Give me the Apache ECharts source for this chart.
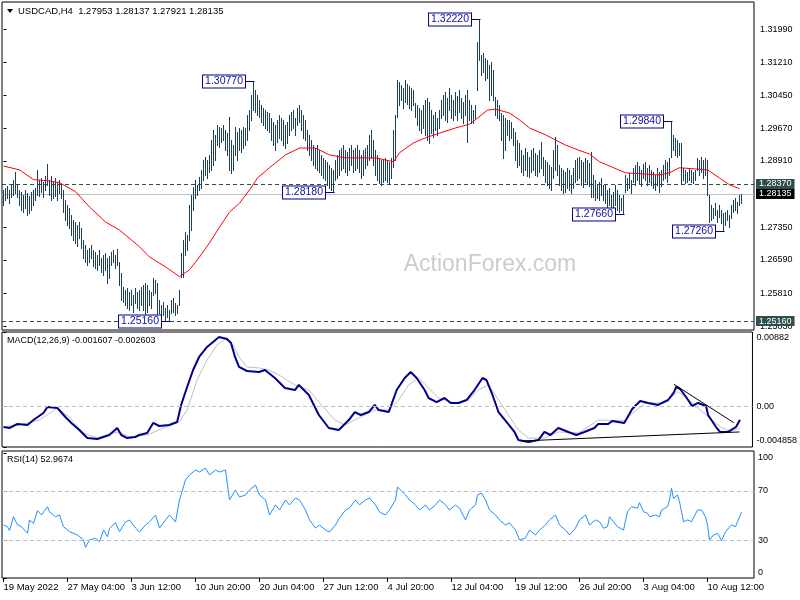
<!DOCTYPE html>
<html><head><meta charset="utf-8">
<script src="https://cdn.jsdelivr.net/npm/echarts@6/dist/echarts.min.js"></script>
<style>html,body{margin:0;padding:0;background:#fff}#c{width:800px;height:600px}</style>
</head><body><div id="c"></div>
<script>
// ---------- DATA (USDCAD H4) ----------
const barHigh = [
1.2823,1.2828,1.2833,1.2823,1.2835,1.2847,1.2865,1.2835,1.2823,1.2819,
1.2812,1.2823,1.2816,1.2809,1.2819,1.2823,1.2828,1.2870,1.2847,1.2851,
1.2842,1.2856,1.2884,1.2847,1.2856,1.2842,1.2851,1.2840,1.2847,1.2837,
1.2823,1.2799,1.2788,1.2781,1.2764,1.2753,1.2748,1.2741,1.2748,1.2734,
1.2706,1.2694,1.2683,1.2687,1.2694,1.2683,1.2678,1.2671,1.2683,1.2664,
1.2671,1.2676,1.2664,1.2669,1.2678,1.2683,1.2671,1.2685,1.2655,1.2629,
1.2596,1.2589,1.2594,1.2585,1.2589,1.2578,1.2594,1.2585,1.2589,1.2596,
1.2601,1.2606,1.2601,1.2589,1.2585,1.2617,1.2613,1.2606,1.2565,1.2554,
1.2561,1.2547,1.2554,1.2542,1.2565,1.2570,1.2558,1.2554,1.2589,1.2676,
1.2706,1.2725,1.2718,1.2788,1.2812,1.2830,1.2847,1.2835,1.2854,1.2870,
1.2893,1.2900,1.2893,1.2905,1.2940,1.2963,1.2952,1.2975,1.2970,1.2968,
1.2975,1.2963,1.2956,1.2994,1.2940,1.2928,1.2970,1.2959,1.2968,1.2963,
1.2970,1.2968,1.2998,1.3010,1.3045,1.3077,1.3057,1.3045,1.3033,1.3022,
1.3015,1.3010,1.3005,1.3003,1.2991,1.2982,1.2975,1.2987,1.2998,1.2991,
1.2987,1.2975,1.2982,1.2998,1.3005,1.3010,1.2991,1.3015,1.3022,1.3010,
1.2998,1.2987,1.2963,1.2952,1.2940,1.2928,1.2921,1.2928,1.2917,1.2905,
1.2898,1.2893,1.2889,1.2882,1.2875,1.2870,1.2893,1.2905,1.2917,1.2921,
1.2928,1.2917,1.2912,1.2921,1.2928,1.2917,1.2921,1.2928,1.2917,1.2905,
1.2917,1.2921,1.2928,1.2952,1.2963,1.2940,1.2917,1.2905,1.2898,1.2893,
1.2893,1.2898,1.2893,1.2889,1.2898,1.2963,1.2998,1.3080,1.3076,1.3069,
1.3062,1.3080,1.3071,1.3066,1.3062,1.3057,1.3026,1.3022,1.3015,1.3010,
1.3022,1.3033,1.3038,1.3029,1.3010,1.2998,1.3005,1.2991,1.3010,1.3033,
1.3045,1.3052,1.3038,1.3062,1.3045,1.3033,1.3052,1.3043,1.3057,1.3038,
1.3029,1.3045,1.3057,1.3033,1.3022,1.3010,1.3022,1.3169,1.3222,1.3139,
1.3144,1.3132,1.3127,1.3115,1.3122,1.3104,1.3041,1.3033,1.3022,1.3003,
1.2998,1.2991,1.2987,1.2987,1.2982,1.2968,1.2959,1.2940,1.2933,1.2917,
1.2905,1.2921,1.2912,1.2900,1.2917,1.2921,1.2910,1.2905,1.2917,1.2935,
1.2900,1.2893,1.2889,1.2882,1.2877,1.2917,1.2947,1.2928,1.2882,1.2875,
1.2870,1.2865,1.2875,1.2870,1.2858,1.2875,1.2893,1.2898,1.2900,1.2893,
1.2889,1.2898,1.2893,1.2886,1.2912,1.2858,1.2847,1.2835,1.2842,1.2851,
1.2835,1.2835,1.2823,1.2828,1.2812,1.2819,1.2835,1.2823,1.2812,1.2805,
1.2812,1.2858,1.2851,1.2863,1.2847,1.2875,1.2882,1.2889,1.2879,1.2870,
1.2884,1.2889,1.2875,1.2882,1.2870,1.2865,1.2858,1.2875,1.2865,1.2870,
1.2882,1.2893,1.2889,1.2898,1.2984,1.2952,1.2945,1.2940,1.2933,1.2933,
1.2875,1.2870,1.2865,1.2875,1.2870,1.2865,1.2870,1.2898,1.2893,1.2900,
1.2893,1.2898,1.2893,1.2812,1.2788,1.2781,1.2792,1.2776,1.2788,1.2776,
1.2769,1.2771,1.2776,1.2764,1.2788,1.2799,1.2805,1.2795,1.2812,1.28137];
const barLow = [
1.2788,1.2799,1.2805,1.2792,1.2807,1.2812,1.2816,1.2807,1.2788,1.2776,
1.2771,1.2781,1.2764,1.2769,1.2776,1.2788,1.2799,1.2812,1.2809,1.2819,
1.2807,1.2823,1.2835,1.2812,1.2799,1.2805,1.2809,1.2799,1.2816,1.2805,
1.2771,1.2753,1.2741,1.2734,1.2718,1.2706,1.2699,1.2692,1.2711,1.2687,
1.2664,1.2655,1.2648,1.2655,1.2664,1.2645,1.2641,1.2636,1.2648,1.2631,
1.2624,1.2636,1.2606,1.2617,1.2648,1.2655,1.2641,1.2648,1.2601,1.2565,
1.2561,1.2554,1.2547,1.2542,1.2554,1.2537,1.2558,1.2547,1.2542,1.2554,
1.2542,1.2526,1.2537,1.2554,1.2547,1.2578,1.2582,1.2523,1.2535,1.2523,
1.2530,1.2519,1.2526,1.2516,1.2535,1.2537,1.2530,1.2535,1.2554,1.2620,
1.2620,1.2671,1.2683,1.2706,1.2729,1.2776,1.2805,1.2812,1.2823,1.2828,
1.2847,1.2858,1.2851,1.2865,1.2870,1.2882,1.2893,1.2928,1.2924,1.2935,
1.2940,1.2917,1.2905,1.2870,1.2863,1.2870,1.2905,1.2893,1.2917,1.2912,
1.2921,1.2928,1.2940,1.2963,1.2987,1.3010,1.3005,1.2998,1.2994,1.2982,
1.2975,1.2968,1.2963,1.2959,1.2940,1.2928,1.2917,1.2935,1.2945,1.2940,
1.2928,1.2921,1.2933,1.2952,1.2963,1.2968,1.2952,1.2975,1.2982,1.2963,
1.2945,1.2940,1.2917,1.2905,1.2893,1.2882,1.2875,1.2870,1.2865,1.2858,
1.2851,1.2847,1.2835,1.2828,1.2823,1.2818,1.2847,1.2851,1.2858,1.2870,
1.2875,1.2865,1.2858,1.2870,1.2882,1.2865,1.2870,1.2875,1.2865,1.2851,
1.2858,1.2875,1.2882,1.2893,1.2898,1.2882,1.2858,1.2847,1.2840,1.2835,
1.2842,1.2847,1.2842,1.2837,1.2851,1.2877,1.2893,1.2994,1.3022,1.3033,
1.3015,1.3029,1.3024,1.3015,1.3010,1.3022,1.2994,1.2975,1.2963,1.2956,
1.2968,1.2952,1.2940,1.2933,1.2956,1.2947,1.2963,1.2952,1.2968,1.2991,
1.2998,1.2987,1.2982,1.3010,1.2991,1.2987,1.2998,1.2987,1.3005,1.2991,
1.2980,1.2998,1.2935,1.2987,1.2980,1.2980,1.2991,1.3057,1.3127,1.3092,
1.3099,1.3080,1.3085,1.3033,1.3045,1.3033,1.2998,1.2991,1.2987,1.2940,
1.2898,1.2917,1.2952,1.2940,1.2945,1.2928,1.2893,1.2877,1.2882,1.2865,
1.2858,1.2870,1.2856,1.2854,1.2865,1.2870,1.2858,1.2856,1.2865,1.2875,
1.2858,1.2842,1.2835,1.2828,1.2823,1.2851,1.2870,1.2858,1.2835,1.2823,
1.2816,1.2819,1.2828,1.2823,1.2816,1.2828,1.2842,1.2847,1.2851,1.2835,
1.2830,1.2842,1.2837,1.2833,1.2807,1.2807,1.2799,1.2805,1.2799,1.2812,
1.2799,1.2792,1.2783,1.2788,1.2776,1.2781,1.2788,1.2776,1.2771,1.2776,
1.2766,1.2819,1.2823,1.2828,1.2816,1.2842,1.2835,1.2847,1.2840,1.2833,
1.2851,1.2847,1.2835,1.2842,1.2835,1.2828,1.2823,1.2835,1.2819,1.2833,
1.2847,1.2851,1.2842,1.2858,1.2900,1.2917,1.2905,1.2900,1.2905,1.2840,
1.2847,1.2840,1.2842,1.2847,1.2842,1.2840,1.2847,1.2870,1.2858,1.2865,
1.2851,1.2858,1.2812,1.2748,1.2753,1.2757,1.2764,1.2748,1.2760,1.2746,
1.2726,1.2741,1.2753,1.2736,1.2757,1.2771,1.2776,1.2769,1.2788,1.27921];

// Moving average (red) read at selected bars
const maIdx = [0,8,15,23,28,36,43,51,58,68,73,81,88,93,98,103,108,113,118,123,127,133,141,148,156,163,171,178,186,195,198,205,211,218,226,233,237,242,246,253,258,263,271,276,281,287,293,298,304,311,318,328,333,338,346,352,358,363,368];
const maVal = [1.2879,1.2870,1.2847,1.2844,1.2840,1.2819,1.2783,1.2748,1.2729,1.2690,1.2666,1.2643,1.2620,1.2636,1.2666,1.2699,1.2736,1.2771,1.2792,1.2823,1.2851,1.2875,1.2905,1.2921,1.2921,1.2905,1.2898,1.2898,1.2898,1.2889,1.2910,1.2933,1.2945,1.2956,1.2968,1.2977,1.2991,1.3010,1.3012,1.3003,1.2987,1.2968,1.2952,1.2940,1.2928,1.2917,1.2907,1.2889,1.2877,1.2863,1.2861,1.2858,1.2863,1.2875,1.2872,1.2870,1.2851,1.2835,1.2826];

// MACD(12,26,9)
const macdIdx = [0,3,7,12,15,20,22,27,31,34,38,42,47,50,53,57,59,62,66,68,72,75,78,83,87,89,92,95,98,102,105,108,112,114,116,118,122,128,131,136,141,146,148,153,158,163,168,173,176,179,183,186,188,193,197,201,204,207,211,213,217,221,224,228,232,236,240,242,245,248,252,256,258,263,268,271,274,278,283,287,291,296,298,303,305,311,315,319,323,328,333,336,337,339,342,345,348,352,353,357,359,363,367,369];
const macdVal = [-0.00248,-0.00260,-0.00212,-0.00224,-0.00165,-0.00081,-0.00010,-0.00022,-0.00129,-0.00200,-0.00284,-0.00379,-0.00391,-0.00367,-0.00343,-0.00260,-0.00343,-0.00379,-0.00367,-0.00343,-0.00319,-0.00200,-0.00236,-0.00224,-0.00188,0.00014,0.00228,0.00430,0.00585,0.00704,0.00763,0.00823,0.00799,0.00751,0.00585,0.00466,0.00418,0.00406,0.00430,0.00335,0.00216,0.00192,0.00252,0.00133,-0.00105,-0.00260,-0.00284,-0.00165,-0.00070,-0.00105,-0.00070,0.00014,-0.00046,-0.00070,0.00192,0.00335,0.00406,0.00335,0.00192,0.00097,0.00049,0.00097,0.00038,0.00038,0.00073,0.00192,0.00335,0.00311,0.00133,-0.00070,-0.00188,-0.00307,-0.00403,-0.00426,-0.00403,-0.00307,-0.00343,-0.00260,-0.00307,-0.00343,-0.00307,-0.00260,-0.00212,-0.00212,-0.00177,-0.00200,-0.00034,0.00061,0.00038,0.00014,0.00073,0.00168,0.00228,0.00204,0.00109,0.00002,0.00038,0.00002,-0.00105,-0.00248,-0.00307,-0.00307,-0.00248,-0.001607];
const sigIdx = [0,8,18,27,33,40,47,55,58,63,72,80,88,92,97,102,107,111,115,118,122,128,133,138,146,153,158,166,171,178,186,193,198,203,208,213,218,226,233,238,243,248,253,258,263,271,278,288,298,311,317,322,329,333,338,342,348,353,359,364,369];
const sigVal = [-0.00248,-0.00224,-0.00165,-0.00022,-0.00129,-0.00319,-0.00379,-0.00319,-0.00307,-0.00367,-0.00343,-0.00260,-0.00188,-0.00046,0.00311,0.00549,0.00727,0.00799,0.00727,0.00585,0.00466,0.00454,0.00430,0.00371,0.00252,0.00192,0.00049,-0.00165,-0.00224,-0.00141,-0.00046,-0.00046,0.00073,0.00252,0.00335,0.00216,0.00097,0.00038,0.00073,0.00192,0.00252,0.00073,-0.00105,-0.00284,-0.00379,-0.00379,-0.00307,-0.00319,-0.00165,-0.00173,-0.00046,0.00038,0.00038,0.00073,0.00172,0.00097,-0.00022,-0.00125,-0.00244,-0.00304,-0.002603];
const macdTrendA = [[335.9, 0.00260], [365.9, -0.00197]];
const macdTrendB = [[259.4, -0.00414], [368.7, -0.00307]];

// RSI(14)
const rsiIdx = [0,2,3,5,7,9,12,13,15,17,19,22,23,26,28,30,33,37,40,41,43,46,48,50,52,53,56,58,61,63,66,68,71,73,76,78,81,83,86,88,91,93,96,98,101,103,106,108,111,113,116,118,121,123,126,128,131,133,136,138,141,143,146,148,151,153,156,158,161,163,166,168,171,173,176,178,181,183,186,188,191,193,196,197,201,203,206,208,211,213,216,218,221,223,226,228,231,233,236,237,239,241,243,246,248,251,253,256,258,261,263,266,268,271,273,276,278,281,283,286,288,291,293,296,298,300,302,303,305,307,308,310,312,314,317,318,320,322,323,326,328,329,332,333,334,335,337,338,340,342,344,347,349,351,352,353,355,357,358,359,361,362,364,366,367,369];
const rsiVal = [42.7,41.3,38.1,49.3,42.7,41.3,36.0,46.7,44.0,54.2,50.7,57.4,53.4,49.3,50.7,41.3,37.3,34.6,30.6,24.7,30.6,32.0,29.2,38.6,33.2,40.0,44.5,37.3,45.1,46.7,40.2,37.0,42.7,45.1,50.7,40.2,46.7,50.7,45.1,62.8,78.9,82.9,86.9,85.3,88.5,82.9,86.9,85.3,86.9,62.8,70.8,65.2,66.8,70.8,74.8,66.8,62.8,50.7,58.8,54.7,62.8,58.8,64.4,62.8,54.7,46.7,40.2,42.7,38.6,37.0,42.7,48.3,54.7,56.3,62.8,58.8,62.8,64.4,58.8,53.1,50.7,54.7,62.8,73.2,66.8,62.8,58.8,54.7,58.8,54.7,58.8,62.8,58.8,54.7,58.8,56.3,46.7,54.7,58.8,66.8,68.4,62.8,54.7,50.7,46.7,42.7,44.3,38.6,30.6,32.2,38.6,34.6,38.6,42.7,46.7,50.7,42.7,38.6,34.6,40.2,46.7,50.7,42.7,46.7,45.3,40.0,41.3,49.3,45.3,41.3,42.7,38.6,53.4,57.4,56.1,60.6,53.4,52.1,49.3,50.7,49.3,54.7,57.4,62.8,72.2,64.1,66.8,61.4,45.3,46.7,45.3,54.7,54.7,49.3,42.7,30.6,34.6,36.0,33.2,29.8,37.3,37.3,42.7,41.3,45.3,52.9674];

// Axis ticks
const priceTicks = [1.2503,1.2581,1.2659,1.2735,1.2891,1.2967,1.3045,1.3121,1.3199];
const priceTickLabels = ['1.25030','1.25810','1.26590','1.27350','1.28910','1.29670','1.30450','1.31210','1.31990'];
const macdTicks = [0.00882, 0, -0.004858];
const macdTickLabels = ['0.00882','0.00','-0.004858'];
const rsiTicks = [100, 70, 30, 0];
const rsiTickLabels = ['100','70','30','0'];
const timeTickIdx = [0,32,64,96,128,160,192,224,256,288,320,352];
const timeTickLabels = ['19 May 2022','27 May 04:00','3 Jun 12:00','10 Jun 20:00','20 Jun 04:00','27 Jun 12:00','4 Jul 20:00','12 Jul 04:00','19 Jul 12:00','26 Jul 20:00','3 Aug 04:00','10 Aug 12:00'];

// Price levels and swing annotations
const bidPrice = 1.28135;
const levelPrices = [1.28370, 1.25160];
const levelLabels = ['1.28370', '1.25160'];
const noteIdx = [125, 238, 165, 83, 334, 310, 360];
const notePrice = [1.3077, 1.3222, 1.2818, 1.2516, 1.2984, 1.2766, 1.2726];
const noteText = ['1.30770','1.32220','1.28180','1.25160','1.29840','1.27660','1.27260'];

// ---------- CHART ----------
const FONT = '"Liberation Sans", Arial, sans-serif';
function pick(ticks, labels, v){ const k = ticks.findIndex(t => Math.abs(t - v) < 1e-9); return k < 0 ? '' : labels[k]; }
const pairs = (a, b) => a.map((x, k) => [x, b[k]]);

const chart = echarts.init(document.getElementById('c'), null, {renderer: 'canvas'});
const xBase = {type: 'value', min: -0.75, max: 375.25, axisLine: {show: false}, axisTick: {show: false}, axisLabel: {show: false}, splitLine: {show: false}};
const gridBase = {show: true, borderColor: '#000', borderWidth: 1, backgroundColor: 'transparent', containLabel: false};
const levelLabel = (txt, bg) => ({show: true, position: 'end', distance: 2, formatter: txt, color: '#fff', backgroundColor: bg,
  padding: [1, 3, 0, 3], fontSize: 9, fontFamily: FONT});

chart.setOption({
  animation: false,
  textStyle: {fontFamily: FONT},
  grid: [
    Object.assign({left: 2, top: 2, width: 752, height: 328}, gridBase),
    Object.assign({left: 2, top: 332, width: 752, height: 115}, gridBase),
    Object.assign({left: 2, top: 451, width: 752, height: 127}, gridBase)
  ],
  xAxis: [
    Object.assign({gridIndex: 0}, xBase),
    Object.assign({gridIndex: 1}, xBase),
    Object.assign({}, xBase, {gridIndex: 2,
      axisTick: {show: true, customValues: timeTickIdx, length: 4, lineStyle: {color: '#000'}},
      axisLabel: {show: true, customValues: timeTickIdx, formatter: v => pick(timeTickIdx, timeTickLabels, v),
        align: 'left', margin: 4, fontSize: 9.5, color: '#000', fontFamily: FONT}})
  ],
  yAxis: [
    {type: 'value', gridIndex: 0, position: 'right', min: 1.24951, max: 1.32629, splitLine: {show: false},
     axisLine: {show: false},
     axisTick: {show: true, customValues: priceTicks, length: 3, lineStyle: {color: '#000'}},
     axisLabel: {customValues: priceTicks, formatter: v => pick(priceTicks, priceTickLabels, v), fontSize: 9, color: '#000', margin: 6, fontFamily: FONT, hideOverlap: false}},
    {type: 'value', gridIndex: 1, position: 'right', min: -0.004858, max: 0.00882, splitLine: {show: false},
     axisLine: {show: false},
     axisTick: {show: true, customValues: macdTicks, length: 3, lineStyle: {color: '#000'}},
     axisLabel: {customValues: macdTicks, margin: 4, fontSize: 9, color: '#000', fontFamily: FONT,
       formatter: v => { const s = pick(macdTicks, macdTickLabels, v); return v > 0.005 ? '{dn|' + s + '}' : (v < -0.004 ? '{up|' + s + '}' : s); },
       rich: {dn: {padding: [12, 0, 0, 0], fontSize: 9, color: '#000'}, up: {padding: [0, 0, 12, 0], fontSize: 9, color: '#000'}}}},
    {type: 'value', gridIndex: 2, position: 'right', min: 0, max: 102.2, splitLine: {show: false},
     axisLine: {show: false},
     axisTick: {show: true, customValues: rsiTicks, length: 3, lineStyle: {color: '#000'}},
     axisLabel: {customValues: rsiTicks, margin: 4, fontSize: 9, color: '#000', fontFamily: FONT,
       formatter: v => { const s = pick(rsiTicks, rsiTickLabels, v); return v === 100 ? '{dn|' + s + '}' : (v === 0 ? '{up|' + s + '}' : s); },
       rich: {dn: {padding: [8, 0, 0, 0], fontSize: 9, color: '#000'}, up: {padding: [0, 0, 10, 0], fontSize: 9, color: '#000'}}}}
  ],
  graphic: [
    {type: 'polygon', shape: {points: [[7, 9], [13, 9], [10, 13]]}, style: {fill: '#000'}},
    {type: 'text', x: 18, y: 11, style: {text: 'USDCAD,H4  1.27953 1.28137 1.27921 1.28135', font: '9.5px ' + FONT, fill: '#000', verticalAlign: 'middle'}},
    {type: 'text', x: 7, y: 341, style: {text: 'MACD(12,26,9) -0.001607 -0.002603', font: '9px ' + FONT, fill: '#000', verticalAlign: 'middle'}},
    {type: 'text', x: 7, y: 460, style: {text: 'RSI(14) 52.9674', font: '9px ' + FONT, fill: '#000', verticalAlign: 'middle'}},
    {type: 'text', x: 490, y: 265, z: -1, style: {text: 'ActionForex.com', font: '23px ' + FONT, fill: '#cccccc', align: 'center', verticalAlign: 'middle'}}
  ],
  series: [
    // OHLC bars (high-low lines)
    {type: 'custom', xAxisIndex: 0, yAxisIndex: 0, z: 2,
     data: barHigh.map((h, i) => [i, barLow[i], h]),
     encode: {x: 0, y: [1, 2]},
     renderItem: function (params, api) {
       const i = api.value(0);
       const lo = api.coord([i, api.value(1)]);
       const hi = api.coord([i, api.value(2)]);
       const x = Math.round(lo[0] - 0.5) + 0.5;
       return {type: 'line', shape: {x1: x, y1: Math.round(hi[1]), x2: x, y2: Math.round(lo[1]) + 1},
               style: {stroke: '#1c3f5e', lineWidth: 1}};
     }},
    // Moving average + price levels
    {type: 'line', xAxisIndex: 0, yAxisIndex: 0, z: 3, data: pairs(maIdx, maVal), showSymbol: false,
     lineStyle: {color: '#ff0000', width: 1},
     markLine: {silent: true, symbol: 'none', animation: false, precision: 6, z: 1,
       data: [
         {yAxis: bidPrice, lineStyle: {color: '#c0c0c0', type: 'solid', width: 1}, label: levelLabel(bidPrice.toFixed(5), '#000')},
         {yAxis: levelPrices[0], lineStyle: {color: '#2f4f4f', type: [4, 3], width: 1}, label: levelLabel(levelLabels[0], '#2f4f4f')},
         {yAxis: levelPrices[1], lineStyle: {color: '#2f4f4f', type: [4, 3], width: 1}, label: levelLabel(levelLabels[1], '#2f4f4f')}
       ]}},
    // Swing annotations
    {type: 'custom', xAxisIndex: 0, yAxisIndex: 0, z: 4,
     data: pairs(noteIdx, notePrice),
     renderItem: function (params, api) {
       const p = api.coord([api.value(0), api.value(1)]);
       const y = Math.round(p[1]) + 0.5;
       const bx = Math.round(p[0]) - 9;
       return {type: 'group', children: [
         {type: 'line', shape: {x1: bx, y1: y, x2: Math.round(p[0]) + 0.5, y2: y}, style: {stroke: '#000080', lineWidth: 1}},
         {type: 'text', x: bx, y: y, style: {text: noteText[params.dataIndex], align: 'right', verticalAlign: 'middle',
           fill: '#1010a0', font: '10.5px ' + FONT, backgroundColor: '#fff', borderColor: '#000080', borderWidth: 1, padding: [1, 2, 0, 2]}}
       ]};
     }},
    // MACD
    {type: 'line', xAxisIndex: 1, yAxisIndex: 1, z: 2, data: pairs(sigIdx, sigVal), showSymbol: false,
     lineStyle: {color: '#c0c0c0', width: 1},
     markLine: {silent: true, symbol: 'none', precision: 8, label: {show: false},
       data: [{yAxis: 0, lineStyle: {color: '#c0c0c0', type: [4, 3], width: 1}}]}},
    {type: 'line', xAxisIndex: 1, yAxisIndex: 1, z: 3, data: pairs(macdIdx, macdVal), showSymbol: false,
     lineStyle: {color: '#00008b', width: 2},
     markLine: {silent: true, symbol: 'none', precision: 8, label: {show: false}, lineStyle: {color: '#000', type: 'solid', width: 1},
       data: [
         [{coord: macdTrendA[0]}, {coord: macdTrendA[1]}],
         [{coord: macdTrendB[0]}, {coord: macdTrendB[1]}]
       ]}},
    // RSI
    {type: 'line', xAxisIndex: 2, yAxisIndex: 2, z: 3, data: pairs(rsiIdx, rsiVal), showSymbol: false,
     lineStyle: {color: '#1e90ff', width: 1},
     markLine: {silent: true, symbol: 'none', precision: 4, label: {show: false}, lineStyle: {color: '#c0c0c0', type: [4, 3], width: 1},
       data: [{yAxis: 70}, {yAxis: 30}]}}
  ]
});
</script>
</body></html>
